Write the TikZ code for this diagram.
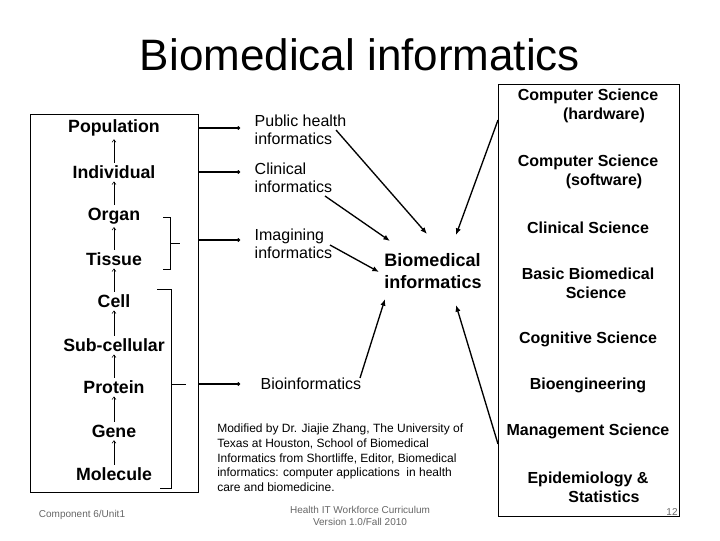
\documentclass[tikz,border=0pt]{standalone}
\usepackage{fontspec}
\setmainfont{Liberation Sans}
\usetikzlibrary{arrows.meta}
\begin{document}
\begin{tikzpicture}[x=0.75pt,y=-0.75pt,
 lvl/.style={font=\bfseries\fontsize{13.3}{14}\selectfont},
 rt/.style={font=\bfseries\fontsize{12}{14}\selectfont,align=center},
 inf/.style={font=\fontsize{12}{13.5}\selectfont,align=left,anchor=west},
 up/.style={-{Straight Barb[length=2pt,width=3pt]},line width=0.4pt,shorten <=1pt,shorten >=1pt},
 hr/.style={-{Circle[length=2.5pt]},line width=1pt},
 dg/.style={-{Latex[length=5pt,width=4pt]},line width=1pt},
 small/.style={font=\fontsize{7.5}{9}\selectfont,text=gray!80!black,align=center}]
\useasboundingbox (0,0) rectangle (720,540);
\node[font=\fontsize{33}{35}\selectfont] (title) at (360,55) {Biomedical informatics};
\draw (30,114) rectangle (198,492);
\foreach \n/\t/\y in {pop/Population/128,ind/Individual/172,org/Organ/216,tis/Tissue/259,cel/Cell/301,sub/Sub-cellular/345,pro/Protein/387,gen/Gene/431,mol/Molecule/474}
  \node[lvl,inner sep=1pt] (\n) at (114,\y) {\t};
\foreach \a/\b in {ind/pop,org/ind,tis/org,cel/tis,sub/cel,pro/sub,gen/pro,mol/gen}
  \draw[up] (\a) -- (\b);
% brackets
\draw (163,217) -- (170,217) -- (170,269) -- (163,269);
\draw (170,243) coordinate (b1) -- (180,243);
\draw (157,289) -- (171,289) -- (171,488) -- (160,488);
\draw (171,384) coordinate (b2) -- (186,384);
\node[inf] (ph) at (250,130) {Public health\\informatics};
\node[inf] (cl) at (250,178) {Clinical\\informatics};
\node[inf] (im) at (250,244) {Imagining\\informatics};
\node[inf] (bi) at (256,384) {Bioinformatics};
\coordinate (s1) at (198,128); \coordinate (s2) at (198,172);
\coordinate (s3) at (198,240); \coordinate (s4) at (198,384);
\coordinate (e1) at (240,128); \coordinate (e2) at (240,172);
\coordinate (e3) at (240,240); \coordinate (e4) at (240,384);
\draw[hr] (s1) -- (e1); \draw[hr] (s2) -- (e2);
\draw[hr] (s3) -- (e3); \draw[hr] (s4) -- (e4);
\node[font=\bfseries\fontsize{13.5}{16.5}\selectfont,align=left] (bm) at (433,271) {Biomedical\\informatics};
\draw (498,84) rectangle (679,516);
\node[rt] (r1) at (588,106) {Computer Science\\\hspace*{2em}(hardware)};
\node[rt] (r2) at (588,172) {Computer Science\\\hspace*{2em}(software)};
\node[rt] (r3) at (588,228) {Clinical Science};
\node[rt] (r4) at (588,283) {Basic Biomedical\\\hspace*{1em}Science};
\node[rt] (r5) at (588,339) {Cognitive Science};
\node[rt] (r6) at (588,385) {Bioengineering};
\node[rt] (r7) at (588,431) {Management Science};
\node[rt] (r8) at (588,487) {Epidemiology \&\\\hspace*{2em}Statistics};
\coordinate (a1) at (336,130); \coordinate (t1) at (427,234);
\coordinate (a2) at (325,196); \coordinate (t2) at (390,241);
\coordinate (a3) at (330,245); \coordinate (t3) at (379,272);
\coordinate (a4) at (360,378); \coordinate (t4) at (385,299);
\coordinate (a5) at (498,120); \coordinate (t5) at (456,235);
\coordinate (a6) at (498,444); \coordinate (t6) at (456,305);
\foreach \i in {1,...,6} \draw[dg] (a\i) -- (t\i);
\node[font=\fontsize{9}{10.9}\selectfont,align=left,anchor=north west,inner sep=0pt] (cr) at (217,424) {Modified by Dr. Jiajie Zhang, The University of\\Texas at Houston, School of Biomedical\\Informatics from Shortliffe, Editor, Biomedical\\informatics: computer applications\ \ in health\\care and biomedicine.};
\node[small] (c6) at (82,515) {Component 6/Unit1};
\node[small] (hit) at (360,516) {Health IT Workforce Curriculum\\Version 1.0/Fall 2010};
\node[small] (pg) at (672,512) {12};
\end{tikzpicture}
\end{document}
